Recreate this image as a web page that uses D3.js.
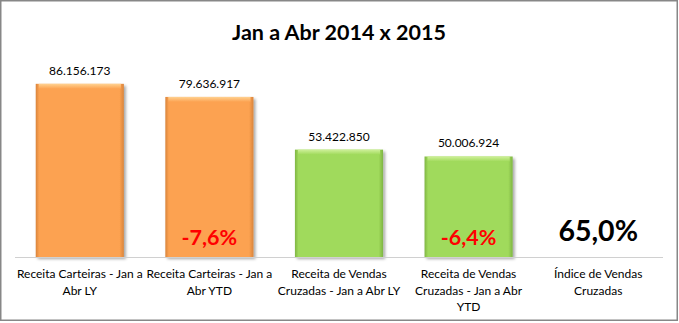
<!DOCTYPE html>
<html><head><meta charset="utf-8">
<script src="https://cdn.jsdelivr.net/npm/d3@7"></script>
<style>body{margin:0;background:#fff}svg{display:block}</style>
</head><body>
<script>
const title = "Jan a Abr 2014 x 2015";
const categories = [
  "Receita Carteiras - Jan a\nAbr LY",
  "Receita Carteiras - Jan a\nAbr YTD",
  "Receita de Vendas\nCruzadas - Jan a Abr LY",
  "Receita de Vendas\nCruzadas - Jan a Abr\nYTD",
  "Índice de Vendas\nCruzadas"
];
const values = [86156173, 79636917, 53422850, 50006924, null];
const valueLabels = ["86.156.173", "79.636.917", "53.422.850", "50.006.924", ""];
const pctLabels = ["", "-7,6%", "", "-6,4%", "65,0%"];
const barGroup = ["orange", "orange", "green", "green", "none"];

const W = 679, H = 323;
const svg = d3.select("body").append("svg").attr("width", W).attr("height", H);
const defs = svg.append("defs");
const palette = {
  orange: {main: "#FCA251", edge: "#D9843C", hi: "#FFD291"},
  green:  {main: "#A0DA5B", edge: "#7FB544", hi: "#CFF09A"}
};
Object.entries(palette).forEach(([k, c]) => {
  const g = defs.append("linearGradient").attr("id", "h-" + k).attr("x1", 0).attr("x2", 1).attr("y1", 0).attr("y2", 0);
  [[0, c.edge], [0.04, c.main], [0.95, c.main], [1, c.edge]].forEach(([o, col]) =>
    g.append("stop").attr("offset", o).attr("stop-color", col));
  const v = defs.append("linearGradient").attr("id", "v-" + k).attr("x1", 0).attr("x2", 0).attr("y1", 0).attr("y2", 1);
  [[0, c.hi], [1, c.main]].forEach(([o, col]) =>
    v.append("stop").attr("offset", o).attr("stop-color", col));
});
const f = defs.append("filter").attr("id", "sh").attr("x", "-20%").attr("y", "-20%").attr("width", "140%").attr("height", "140%");
f.append("feDropShadow").attr("dx", 2).attr("dy", 2).attr("stdDeviation", 1.5).attr("flood-color", "#000").attr("flood-opacity", 0.35);

svg.append("rect").attr("x", 0.75).attr("y", 0.75).attr("width", W - 2.5).attr("height", H - 3.5)
  .attr("fill", "#fff").attr("stroke", "#878787").attr("stroke-width", 1.5);

svg.append("text").attr("x", 339).attr("y", 40).attr("text-anchor", "middle")
  .attr("font-family", "Lato").attr("font-weight", "bold").attr("font-size", 21.5)
  .attr("fill", "#000").text(title);

const x = d3.scaleBand().domain(d3.range(categories.length)).range([15, 663])
  .paddingInner(0.32).paddingOuter(0.16);
const y = d3.scaleLinear().domain([0, 100000000]).range([257, 56]);

const idx = d3.range(categories.length).filter(i => values[i] != null);
const bars = svg.append("g").selectAll("g").data(idx).join("g");
bars.append("rect")
  .attr("x", i => x(i)).attr("y", i => y(values[i]))
  .attr("width", x.bandwidth()).attr("height", i => y(0) - y(values[i]))
  .attr("fill", i => `url(#h-${barGroup[i]})`).attr("filter", "url(#sh)");
bars.append("rect")
  .attr("x", i => x(i) + 3).attr("y", i => y(values[i]))
  .attr("width", x.bandwidth() - 6).attr("height", 5)
  .attr("fill", i => `url(#v-${barGroup[i]})`);

svg.append("line").attr("x1", 15).attr("x2", 663).attr("y1", 257.5).attr("y2", 257.5)
  .attr("stroke", "#d0d0d0").attr("stroke-width", 1);

svg.append("g").selectAll("text").data(idx).join("text")
  .attr("x", i => x(i) + x.bandwidth() / 2).attr("y", i => y(values[i]) - 9)
  .attr("text-anchor", "middle").attr("font-family", "Lato").attr("font-size", 12)
  .attr("fill", "#000").text(i => valueLabels[i]);

svg.append("g").selectAll("text").data(d3.range(categories.length).filter(i => pctLabels[i])).join("text")
  .attr("x", i => x(i) + x.bandwidth() / 2)
  .attr("y", i => values[i] == null ? 241 : 245)
  .attr("text-anchor", "middle").attr("font-family", "Lato").attr("font-weight", "bold")
  .attr("font-size", i => values[i] == null ? 28.5 : 21.5)
  .attr("fill", i => values[i] == null ? "#000" : "#FF0000").text(i => pctLabels[i]);

const cat = svg.append("g").selectAll("text").data(d3.range(categories.length)).join("text")
  .attr("text-anchor", "middle").attr("font-family", "Lato").attr("font-size", 12).attr("fill", "#000");
cat.each(function(i) {
  const t = d3.select(this);
  categories[i].split("\n").forEach((line, k) => {
    t.append("tspan").attr("x", x(i) + x.bandwidth() / 2).attr("y", 278 + k * 16.5).text(line);
  });
});
</script>
</body></html>
